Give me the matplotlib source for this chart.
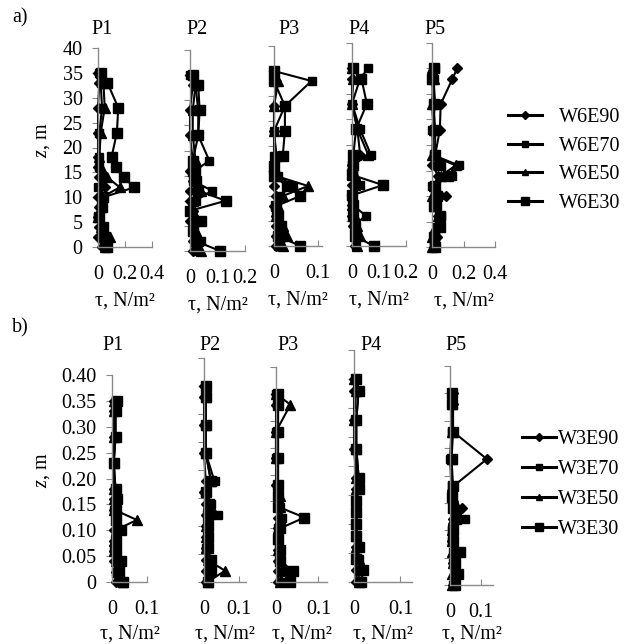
import numpy as np
import matplotlib
matplotlib.use("Agg")
import matplotlib.pyplot as plt
from matplotlib.lines import Line2D

plt.rcParams['font.family'] = ['Liberation Serif', 'DejaVu Serif']
plt.rcParams['mathtext.fontset'] = 'custom'
plt.rcParams['mathtext.rm'] = 'Liberation Serif'
plt.rcParams['mathtext.it'] = 'Liberation Serif:italic'

# depth levels (m) for the two runs
z_a = [35, 33, 28, 23, 18, 16, 14, 12, 10, 8, 6, 4, 2, 0]
z_b = [0.35, 0.33, 0.28, 0.23, 0.18, 0.16, 0.14, 0.12, 0.10, 0.08, 0.06, 0.04, 0.02, 0.0]

names_a = ['W6E90', 'W6E70', 'W6E50', 'W6E30']
names_b = ['W3E90', 'W3E70', 'W3E50', 'W3E30']
stations = ['P1', 'P2', 'P3', 'P4', 'P5']

# shear stress, one row per series (E90, E70, E50, E30)
a_p1 = [[0.00, 0.01, 0.00, 0.00, 0.00, 0.00, 0.01, 0.05, 0.00, 0.01, 0.00, 0.01, 0.00, 0.03],
        [0.01, 0.02, 0.03, 0.01, 0.01, 0.01, 0.03, 0.00, 0.02, 0.03, 0.00, 0.03, 0.02, 0.06],
        [0.02, 0.04, 0.05, 0.02, 0.01, 0.02, 0.07, 0.16, 0.03, 0.02, 0.00, 0.02, 0.09, 0.05],
        [0.02, 0.07, 0.15, 0.14, 0.10, 0.13, 0.19, 0.27, 0.04, 0.03, 0.01, 0.04, 0.05, 0.07]]
a_p2 = [[0.00, 0.01, 0.00, 0.00, 0.01, 0.00, 0.01, 0.00, 0.00, 0.01, 0.00, 0.01, 0.01, 0.01],
        [0.00, 0.02, 0.03, 0.03, 0.07, 0.02, 0.01, 0.08, 0.02, 0.00, 0.01, 0.01, 0.04, 0.02],
        [0.01, 0.02, 0.01, 0.01, 0.02, 0.01, 0.02, 0.04, 0.01, 0.01, 0.01, 0.02, 0.03, 0.04],
        [0.01, 0.03, 0.035, 0.03, 0.01, 0.01, 0.02, 0.03, 0.13, 0.00, 0.04, 0.01, 0.02, 0.11]]
a_p3 = [[0.00, 0.005, 0.00, 0.00, 0.005, 0.00, 0.00, 0.00, 0.005, 0.00, 0.005, 0.005, 0.005, 0.005],
        [0.00, 0.086, 0.025, 0.00, 0.00, 0.00, 0.01, 0.044, 0.01, 0.005, 0.005, 0.01, 0.02, 0.01],
        [0.00, 0.01, 0.00, 0.00, 0.005, 0.00, 0.005, 0.078, 0.02, 0.01, 0.005, 0.02, 0.03, 0.02],
        [0.00, 0.00, 0.025, 0.025, 0.02, 0.00, 0.00, 0.03, 0.06, 0.005, 0.01, 0.015, 0.01, 0.06]]
a_p4 = [[0.00, 0.00, 0.00, 0.02, 0.03, 0.00, 0.00, 0.00, 0.00, 0.00, 0.00, 0.005, 0.01, 0.01],
        [0.06, 0.03, 0.00, 0.03, 0.07, 0.00, 0.005, 0.03, 0.00, 0.005, 0.05, 0.01, 0.02, 0.015],
        [0.00, 0.005, 0.00, 0.02, 0.06, 0.00, 0.01, 0.01, 0.00, 0.00, 0.01, 0.02, 0.03, 0.02],
        [0.005, 0.035, 0.055, 0.015, 0.005, 0.005, 0.00, 0.115, 0.00, 0.005, 0.005, 0.01, 0.01, 0.08]]
a_p5 = [[0.16, 0.13, 0.055, 0.05, 0.02, 0.00, 0.04, 0.01, 0.09, 0.02, 0.04, 0.05, 0.03, 0.02],
        [0.02, 0.01, 0.02, 0.00, 0.01, 0.17, 0.13, 0.00, 0.02, 0.03, 0.06, 0.03, 0.02, 0.01],
        [0.00, 0.01, 0.00, 0.01, 0.00, 0.15, 0.06, 0.01, 0.00, 0.01, 0.04, 0.02, 0.00, 0.00],
        [0.01, 0.00, 0.01, 0.02, 0.02, 0.05, 0.10, 0.02, 0.03, 0.01, 0.05, 0.05, 0.01, 0.02]]

b_p1 = [[0.005, 0.005, 0.005, 0.005, 0.005, 0.005, 0.005, 0.01, 0.005, 0.005, 0.005, 0.005, 0.01, 0.01],
        [0.01, 0.01, 0.01, 0.005, 0.01, 0.01, 0.005, 0.01, 0.015, 0.01, 0.005, 0.02, 0.01, 0.02],
        [0.005, 0.005, 0.005, 0.005, 0.005, 0.005, 0.005, 0.071, 0.01, 0.005, 0.005, 0.01, 0.015, 0.03],
        [0.015, 0.01, 0.01, 0.005, 0.01, 0.015, 0.01, 0.01, 0.025, 0.01, 0.01, 0.025, 0.02, 0.03]]
b_p2 = [[0.0, 0.0, 0.0, 0.0, 0.005, 0.0, 0.005, 0.005, 0.005, 0.005, 0.005, 0.005, 0.005, 0.005],
        [0.005, 0.005, 0.005, 0.005, 0.03, 0.005, 0.02, 0.04, 0.01, 0.01, 0.005, 0.015, 0.01, 0.01],
        [0.005, 0.005, 0.005, 0.005, 0.02, 0.005, 0.01, 0.01, 0.005, 0.005, 0.005, 0.01, 0.06, 0.01],
        [0.005, 0.005, 0.005, 0.005, 0.02, 0.005, 0.015, 0.01, 0.01, 0.01, 0.01, 0.02, 0.02, 0.01]]
b_p3 = [[0.0, 0.0, 0.0, 0.0, 0.0, 0.005, 0.005, 0.005, 0.005, 0.005, 0.005, 0.005, 0.005, 0.005],
        [0.0, 0.005, 0.0, 0.0, 0.005, 0.005, 0.01, 0.015, 0.005, 0.005, 0.01, 0.01, 0.02, 0.01],
        [0.0, 0.034, 0.0, 0.0, 0.005, 0.01, 0.01, 0.01, 0.005, 0.005, 0.005, 0.01, 0.015, 0.01],
        [0.005, 0.005, 0.005, 0.005, 0.005, 0.005, 0.005, 0.067, 0.01, 0.005, 0.01, 0.01, 0.04, 0.034]]
b_p4 = [[0.0, 0.0, 0.0, 0.0, 0.005, 0.005, 0.005, 0.005, 0.005, 0.005, 0.005, 0.005, 0.005, 0.005],
        [0.005, 0.01, 0.005, 0.005, 0.01, 0.01, 0.005, 0.005, 0.005, 0.005, 0.01, 0.01, 0.02, 0.015],
        [0.0, 0.005, 0.0, 0.005, 0.005, 0.005, 0.005, 0.005, 0.005, 0.005, 0.005, 0.01, 0.01, 0.01],
        [0.005, 0.01, 0.005, 0.005, 0.01, 0.01, 0.005, 0.005, 0.005, 0.005, 0.01, 0.005, 0.02, 0.015]]
b_p5 = [[0.01, 0.01, 0.01, 0.12, 0.01, 0.005, 0.038, 0.01, 0.01, 0.005, 0.02, 0.01, 0.026, 0.01],
        [0.005, 0.005, 0.005, 0.0, 0.005, 0.005, 0.01, 0.049, 0.005, 0.005, 0.01, 0.01, 0.02, 0.01],
        [0.005, 0.005, 0.005, 0.005, 0.005, 0.01, 0.02, 0.01, 0.005, 0.005, 0.005, 0.01, 0.005, 0.005],
        [0.005, 0.005, 0.01, 0.005, 0.01, 0.005, 0.01, 0.02, 0.01, 0.01, 0.033, 0.015, 0.026, 0.015]]

W, H = 638, 644
fig = plt.figure(figsize=(W / 100, H / 100), dpi=100)
FS = 14.5
GREY = '#8a8a8a'
styles = [('D', 5.0), ('s', 6.0), ('^', 6.5), ('s', 7.0)]


def box(left, right, top, bottom):
    return fig.add_axes([left / W, 1 - bottom / H, (right - left) / W, (bottom - top) / H])


def panel(rect, data, z, xlim, xticks, xlabels, yticks, ylim, ylabels=None, lpad=5.5):
    ax = box(*rect)
    ax.patch.set_visible(False)
    for (m, ms), xs in zip(styles, data):
        ax.plot(xs, z, color='black', lw=1.5, marker=m, ms=ms, clip_on=False)
    ax.set_xlim(*xlim)
    ax.set_ylim(*ylim)
    for s in ['top', 'right']:
        ax.spines[s].set_visible(False)
    for s in ['left', 'bottom']:
        ax.spines[s].set_color(GREY)
        ax.spines[s].set_linewidth(1.0)
    ax.set_xticks(xticks)
    ax.set_xticklabels(xlabels)
    ax.set_yticks(yticks)
    if ylabels is None:
        ax.set_yticklabels([])
    else:
        ax.set_yticklabels(ylabels)
    ax.tick_params(axis='x', direction='in', length=4, color=GREY, labelsize=FS, pad=13)
    ax.tick_params(axis='y', direction='out', length=4, color=GREY, labelsize=FS, pad=7)
    ax.set_xlabel('τ, N/m²', fontsize=FS, labelpad=lpad)
    return ax


# a) prototype depths
yt_a = np.arange(0, 41, 5)
panel((98, 152, 48, 247), a_p1, z_a, (0, 0.4), [0, 0.2, 0.4], ['0', '0.2', '0.4'],
      yt_a, (0, 40), [str(v) for v in yt_a])
panel((190, 245, 50, 251), a_p2, z_a, (0, 0.2), [0, 0.1, 0.2], ['0', '0.1', '0.2'], yt_a, (0, 40))
panel((274, 322, 46, 246), a_p3, z_a, (0, 0.11), [0, 0.05, 0.1], ['0', '', '0.1'], yt_a, (0, 40))
panel((352, 406, 43, 246), a_p4, z_a, (0, 0.2), [0, 0.1, 0.2], ['0', '0.1', '0.2'], yt_a, (0, 40))
ax_a5 = panel((432, 495, 43, 247), a_p5, z_a, (0, 0.4), [0, 0.2, 0.4], ['0', '0.2', '0.4'], yt_a, (0, 40))

# b) model depths
yt_b = np.round(np.arange(0, 0.41, 0.05), 2)
panel((112, 147, 375, 582), b_p1, z_b, (0, 0.1), [0, 0.1], ['0', '0.1'],
      yt_b, (0, 0.4), ['0'] + ['%.2f' % v for v in yt_b[1:]], lpad=4)
panel((204, 246, 358, 582), b_p2, z_b, (0, 0.12), [0, 0.1], ['0', '0.1'], yt_b, (0, 0.4), lpad=4)
panel((276, 327, 367, 582), b_p3, z_b, (0, 0.12), [0, 0.1], ['0', '0.1'], yt_b, (0, 0.4), lpad=4)
panel((354, 412, 350, 582), b_p4, z_b, (0, 0.125), [0, 0.1], ['0', '0.1'], yt_b, (0, 0.4), lpad=4)
ax_b5 = panel((450, 493, 366, 585), b_p5, z_b, (0, 0.14), [0, 0.1], ['0', '0.1'], yt_b, (0, 0.4), lpad=1.5)

# station titles and panel letters
for name, x in zip(stations, [102, 197, 289, 359, 435]):
    fig.text(x / W, 1 - 29 / H, name, fontsize=FS, ha='center', va='center')
for name, x in zip(stations, [113, 210, 288, 371, 456]):
    fig.text(x / W, 1 - 345 / H, name, fontsize=FS, ha='center', va='center')
fig.text(20 / W, 1 - 18 / H, 'a)', fontsize=FS, ha='center', va='center')
fig.text(20 / W, 1 - 328 / H, 'b)', fontsize=FS, ha='center', va='center')
fig.text(43 / W, 1 - 140 / H, '$z$, m', fontsize=FS, rotation=90, ha='center', va='center')
fig.text(43 / W, 1 - 470 / H, '$z$, m', fontsize=FS, rotation=90, ha='center', va='center')


def handles():
    return [Line2D([], [], color='black', lw=2.2, marker=m, ms=ms * 0.75) for m, ms in styles]


ax_a5.legend(handles(), names_a, loc='upper left', bbox_to_anchor=(508 / W, 1 - 108 / H),
             bbox_transform=fig.transFigure, frameon=False, fontsize=FS, borderpad=0,
             borderaxespad=0, handlelength=1.7, handletextpad=0.85, labelspacing=0.47)
ax_b5.legend(handles(), names_b, loc='upper left', bbox_to_anchor=(522 / W, 1 - 430 / H),
             bbox_transform=fig.transFigure, frameon=False, fontsize=FS, borderpad=0,
             borderaxespad=0, handlelength=1.7, handletextpad=0.1, labelspacing=0.54)

fig.savefig('out.png', dpi=100)
